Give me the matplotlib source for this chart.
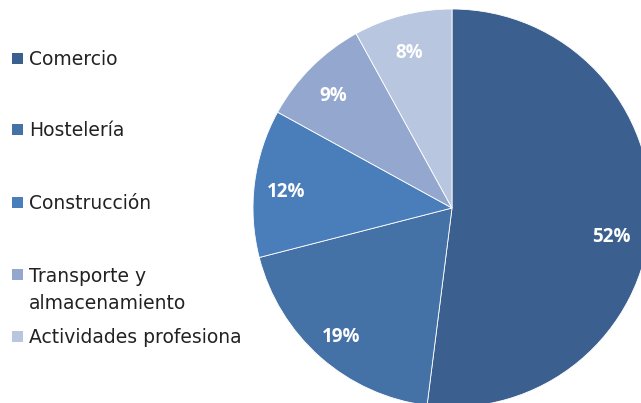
import matplotlib
matplotlib.use("Agg")
import matplotlib.pyplot as plt
from matplotlib.patches import Rectangle
from matplotlib.transforms import offset_copy

# === Datos ===
sectores = ["Comercio", "Hostelería", "Construcción",
            "Transporte y\nalmacenamiento", "Actividades profesiona"]
porcentajes = [52, 19, 12, 9, 8]
colores = ["#3B5F8E", "#4472A6", "#4A7EBB", "#94A8CF", "#B9C6E0"]

W, H = 641, 403
fig = plt.figure(figsize=(W / 100, H / 100), dpi=100)
fig.patch.set_facecolor("white")

# === Tarta (centro ~ (452, 208) px, radio ~199 px) ===
cx, cy, r = 452, 208, 199
ax = fig.add_axes([(cx - r) / W, (H - cy - r) / H, 2 * r / W, 2 * r / H])
wedges, _, autotexts = ax.pie(
    porcentajes, colors=colores, startangle=90, counterclock=False,
    radius=1, autopct="%d%%", pctdistance=0.83,
    wedgeprops=dict(edgecolor="white", linewidth=0.6),
    textprops=dict(color="white", fontsize=13.5, fontweight="bold",
                   family="Open Sans"))
ax.set_xlim(-1, 1)
ax.set_ylim(-1, 1)
ax.set_aspect("equal")
ax.axis("off")
for w in wedges:
    w.set_clip_on(False)

# etiquetas un poco más abajo (como en Excel)
shift = offset_copy(ax.transData, fig=fig, x=-2, y=-5, units="dots")
for t in autotexts:
    t.set_transform(shift)
autotexts[0].set_position((0.81, -0.12))   # "best fit" de la porción grande

# === Leyenda manual ===
base_y = [65, 136, 209, 281, 343]   # linea base de la 1a linea, en px
for lab, col, by in zip(sectores, colores, base_y):
    fig.patches.append(Rectangle((12 / W, 1 - (by - 1) / H), 11 / W, 11 / H,
                                 transform=fig.transFigure, facecolor=col,
                                 edgecolor="none"))
    extra = 28 * lab.count("\n")
    fig.text(29 / W, 1 - (by + extra) / H, lab, fontsize=13.5,
             color="#222222", va="baseline", ha="left", linespacing=1.55,
             family="DejaVu Sans")

fig.savefig("out.png", dpi=100)
